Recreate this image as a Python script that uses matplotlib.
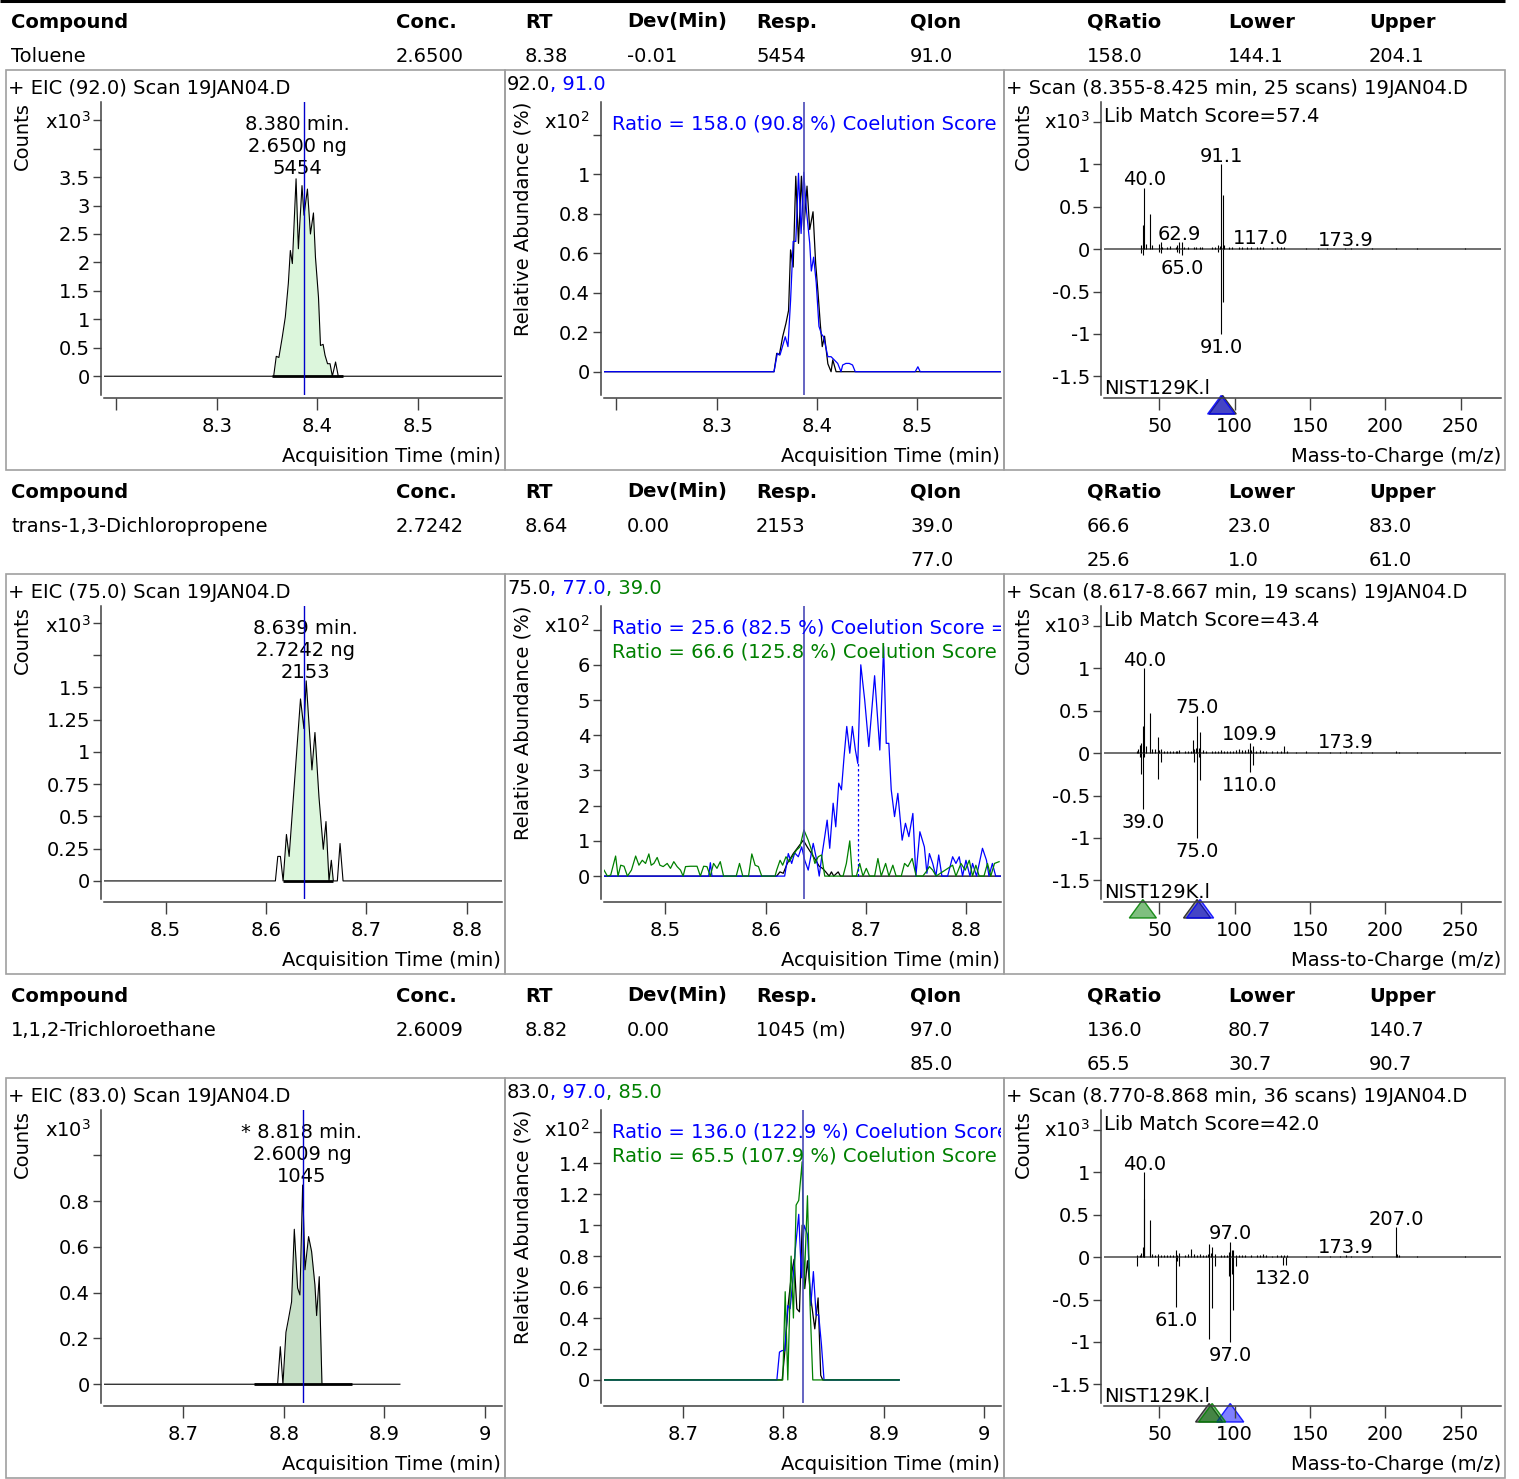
import matplotlib
matplotlib.use('Agg')
import matplotlib.pyplot as plt
from matplotlib.patches import Rectangle, Polygon
from matplotlib.transforms import blended_transform_factory

plt.rcParams['font.family'] = ['DejaVu Sans']
plt.rcParams['font.size'] = 14

W, H = 1519, 1479

################# Table data ###################

columns = ['Compound', 'Conc.', 'RT', 'Dev(Min)', 'Resp.', 'QIon', 'QRatio', 'Lower', 'Upper']
compounds = ['Toluene', 'trans-1,3-Dichloropropene', '1,1,2-Trichloroethane']
conc = ['2.6500', '2.7242', '2.6009']
rt_text = ['8.38', '8.64', '8.82']
dev = ['-0.01', '0.00', '0.00']
resp = ['5454', '2153', '1045 (m)']
qion = [['91.0'], ['39.0', '77.0'], ['97.0', '85.0']]
qratio = [['158.0'], ['66.6', '25.6'], ['136.0', '65.5']]
lower = [['144.1'], ['23.0', '1.0'], ['80.7', '30.7']]
upper = [['204.1'], ['83.0', '61.0'], ['140.7', '90.7']]

################# Chromatogram data ###################

quant_ion = ['92.0', '75.0', '83.0']
rt_found = [8.380, 8.639, 8.818]
rt_expected = [8.387, 8.638, 8.8195]
amount = ['2.6500', '2.7242', '2.6009']
response = ['5454', '2153', '1045']
manual = [False, False, True]
scan_start = [8.355, 8.617, 8.770]
scan_end = [8.425, 8.667, 8.868]
n_scans = [25, 19, 36]
fill_start = [8.3564, 8.617, 8.7991]
fill_end = [8.4148, 8.667, 8.8379]

# EIC traces (counts x10^3)
eic1_t = [8.188, 8.3564, 8.3590, 8.3616, 8.365, 8.368, 8.371, 8.373, 8.375, 8.3787, 8.381, 8.3846,
          8.3866, 8.390, 8.393, 8.396, 8.398, 8.401, 8.403, 8.4056, 8.4075, 8.410, 8.4125, 8.4148,
          8.418, 8.4207, 8.584]
eic1_y = [0, 0, 0.35, 0.33, 0.69, 1.04, 1.63, 2.21, 1.98, 3.47, 2.24, 3.35, 2.83, 3.29, 2.50, 2.87,
          2.09, 1.39, 0.54, 0.56, 0.37, 0.22, 0.22, 0, 0.25, 0, 0]
eic2_t = [8.4386, 8.6093, 8.6117, 8.6143, 8.617, 8.6203, 8.623, 8.6343, 8.6377, 8.640, 8.6457, 8.6487,
          8.6527, 8.657, 8.6597, 8.6627, 8.665, 8.667, 8.671, 8.6737, 8.6767, 8.835]
eic2_y = [0, 0, 0.19, 0.19, 0, 0.36, 0.19, 1.41, 1.18, 1.55, 0.86, 1.15, 0.65, 0.245, 0.46, 0, 0.16,
          0, 0, 0.29, 0, 0]
eic3_t = [8.6212, 8.7938, 8.7965, 8.7991, 8.8021, 8.8044, 8.8077, 8.8104, 8.8137, 8.816, 8.8187,
          8.821, 8.8246, 8.8276, 8.8309, 8.8326, 8.8352, 8.8379, 8.9154]
eic3_y = [0, 0, 0.164, 0, 0.227, 0.28, 0.36, 0.677, 0.42, 0.39, 0.87, 0.5, 0.645, 0.58, 0.434, 0.30,
          0.47, 0, 0]

# qualifier overlays (relative abundance x10^2)
q1_black_t = [8.188, 8.3572, 8.3599, 8.3625, 8.3658, 8.3691, 8.3717, 8.3737, 8.3763, 8.3789, 8.3816,
              8.3845, 8.3868, 8.3901, 8.3928, 8.3961, 8.3987, 8.4010, 8.4033, 8.4053, 8.4076, 8.4109,
              8.4141, 8.4158, 8.4191, 8.4207, 8.584]
q1_black_y = [0, 0, 0.093, 0.085, 0.177, 0.245, 0.31, 0.617, 0.53, 0.99, 0.65, 0.99, 0.72, 0.94, 0.72,
              0.81, 0.55, 0.405, 0.245, 0.127, 0.18, 0.04, 0, 0.06, 0, 0, 0]
q1_blue_t = [8.188, 8.3572, 8.3605, 8.3632, 8.3684, 8.3711, 8.3737, 8.3763, 8.3789, 8.3816, 8.3842,
             8.3868, 8.3895, 8.3928, 8.3944, 8.3967, 8.3993, 8.4020, 8.4046, 8.4066, 8.4109, 8.4141,
             8.4174, 8.4207, 8.4240, 8.4257, 8.4289, 8.4322, 8.4355, 8.4382, 8.498, 8.5007, 8.503, 8.584]
q1_blue_y = [0, 0, 0.093, 0.085, 0.177, 0.127, 0.36, 0.66, 0.66, 1.005, 0.70, 1.01, 0.82, 0.65, 0.51,
             0.58, 0.45, 0.23, 0.19, 0.177, 0.076, 0.076, 0.059, 0.042, 0, 0.034, 0.042, 0.042, 0.034,
             0, 0, 0.025, 0, 0]

q2_black_t = [8.4386, 8.611, 8.6143, 8.6176, 8.6216, 8.6276, 8.6326, 8.6376, 8.6415, 8.6458, 8.65,
              8.6535, 8.6568, 8.66, 8.6634, 8.6657, 8.668, 8.6724, 8.6747, 8.835]
q2_black_y = [0, 0, 0.12, 0.08, 0.36, 0.64, 0.83, 1.02, 0.83, 0.64, 0.45, 0.28, 0.22, 0.12, 0, 0.12, 0,
              0.12, 0, 0]
q2_blue_t = [8.4386, 8.5431, 8.5448, 8.5464, 8.619, 8.6226, 8.626, 8.629, 8.6326, 8.636, 8.639, 8.6425,
             8.6475, 8.651, 8.6535, 8.656, 8.659, 8.6614, 8.664, 8.6674, 8.67, 8.673, 8.6757, 8.6783,
             8.681, 8.684, 8.6866, 8.6896, 8.692, 8.695, 8.6989, 8.703, 8.7088, 8.714, 8.7178, 8.7204,
             8.723, 8.7254, 8.7287, 8.732, 8.7363, 8.7396, 8.743, 8.747, 8.750, 8.754, 8.7585, 8.761,
             8.7635, 8.7668, 8.770, 8.7728, 8.776, 8.7817, 8.7867, 8.79, 8.7933, 8.7966, 8.8, 8.804,
             8.8066, 8.8106, 8.8165, 8.8205, 8.823, 8.8264, 8.8297, 8.835]
q2_blue_y = [0, 0, 0.38, 0, 0, 0.64, 0.36, 0.66, 0.55, 0.83, 0.45, 0.17, 0.93, 0.45, 0, 0.55, 1.12,
             1.59, 0.79, 2.07, 1.4, 2.64, 2.45, 3.39, 4.25, 3.49, 4.25, 3.58, 3.2, 6.0, 5.0, 3.68, 5.69,
             3.58, 6.52, 3.77, 3.77, 2.45, 1.69, 2.35, 1.02, 1.5, 1.12, 1.78, 0, 1.26, 0.83, 0.08, 0.64,
             0.36, 0, 0.6, 0, 0, 0.55, 0.36, 0.55, 0, 0.45, 0, 0.36, 0, 0.79, 0.45, 0, 0.36, 0, 0]
q2_green_t = [8.4386, 8.442, 8.4453, 8.4502, 8.4526, 8.4553, 8.4586, 8.462, 8.466, 8.4702, 8.4735,
              8.4768, 8.4801, 8.4834, 8.4857, 8.4884, 8.4917, 8.4944, 8.4977, 8.5017, 8.505, 8.5083,
              8.5116, 8.515, 8.5176, 8.52, 8.525, 8.5315, 8.5348, 8.5381, 8.5414, 8.5447, 8.548,
              8.5514, 8.5547, 8.558, 8.5706, 8.5739, 8.5772, 8.5829, 8.5862, 8.5895, 8.5928, 8.5961,
              8.6094, 8.611, 8.6144, 8.617, 8.6203, 8.6236, 8.6276, 8.6309, 8.6342, 8.6382, 8.6425,
              8.6458, 8.6492, 8.6525, 8.6558, 8.659, 8.6773, 8.6806, 8.684, 8.6866, 8.6906, 8.6939,
              8.6972, 8.7005, 8.7038, 8.7088, 8.7121, 8.7154, 8.7198, 8.7231, 8.727, 8.7303, 8.7354,
              8.7387, 8.742, 8.7463, 8.7503, 8.7569, 8.7602, 8.7635, 8.7668, 8.7702, 8.7867, 8.79,
              8.795, 8.7993, 8.8033, 8.8066, 8.8099, 8.8132, 8.818, 8.8215, 8.8248, 8.8285, 8.8331]
q2_green_y = [0.17, 0, 0.03, 0.57, 0, 0.31, 0.28, 0, 0.17, 0.57, 0.31, 0.45, 0.36, 0.63, 0.31, 0.36,
              0.53, 0.31, 0.27, 0.36, 0.22, 0.41, 0.27, 0.17, 0, 0.27, 0.28, 0.28, 0, 0.28, 0.27, 0,
              0.36, 0.22, 0.41, 0, 0, 0.36, 0, 0, 0.63, 0.31, 0.27, 0, 0, 0.17, 0.45, 0.31, 0.55, 0.41,
              0.6, 0.74, 0.83, 1.31, 1.02, 0.74, 0.36, 0.55, 0.6, 0, 0, 0.36, 1.0, 0, 0, 0.36, 0, 0.22,
              0, 0, 0.5, 0, 0.36, 0, 0.31, 0, 0, 0.36, 0.27, 0.5, 0, 0, 0.12, 0.27, 0.17, 0, 0.31, 0,
              0.36, 0.17, 0.45, 0, 0.31, 0, 0, 0.36, 0, 0.36, 0.41]
q2_drop = (8.692, 3.2)

q3_black_t = [8.6212, 8.7988, 8.8014, 8.8047, 8.808, 8.8107, 8.8134, 8.816, 8.8187, 8.8213, 8.824,
              8.8273, 8.8313, 8.8346, 8.8372, 8.8392, 8.9154]
q3_black_y = [0, 0, 0.18, 0.48, 0.68, 0.78, 0.46, 0.44, 1.0, 0.59, 0.77, 0.53, 0.33, 0.53, 0.03, 0, 0]
q3_blue_t = [8.6212, 8.7935, 8.7961, 8.7988, 8.8014, 8.8044, 8.8067, 8.8094, 8.812, 8.8153, 8.818,
             8.8206, 8.824, 8.8273, 8.8299, 8.8326, 8.8352, 8.8379, 8.8405, 8.9154]
q3_blue_y = [0, 0, 0.18, 0.19, 0.19, 0.48, 0.46, 0.64, 0.85, 1.07, 0.66, 1.0, 0.94, 0.48, 0.70, 0.42,
             0.42, 0.23, 0, 0]
q3_green_t = [8.6212, 8.7994, 8.8018, 8.8044, 8.8077, 8.81, 8.8127, 8.8153, 8.8187, 8.8206, 8.824,
              8.8266, 8.8293, 8.9154]
q3_green_y = [0, 0, 0.57, 0, 0.80, 0.40, 1.13, 1.16, 1.41, 0.59, 1.19, 0.48, 0, 0]

title_ions = [['92.0', ', 91.0'], ['75.0', ', 77.0', ', 39.0'], ['83.0', ', 97.0', ', 85.0']]
# ratio text as shown (cut off at the right edge of the plot)
ratio_texts = [['Ratio = 158.0 (90.8 %) Coelution Score'],
               ['Ratio = 25.6 (82.5 %) Coelution Score =', 'Ratio = 66.6 (125.8 %) Coelution Score'],
               ['Ratio = 136.0 (122.9 %) Coelution Score', 'Ratio = 65.5 (107.9 %) Coelution Score']]

################# Spectrum data (counts x10^3) ###################

lib_score = ['57.4', '43.4', '42.0']
tri_ions = [[92, 91], [75, 77, 39], [83, 97, 85]]

spec1_mz = [38, 39, 40, 41, 44, 45, 50, 51, 52, 55, 57, 61, 62, 63, 65, 66, 69, 73, 74, 77, 78, 85, 87,
            89, 90, 91, 92, 93, 96, 98, 103, 105, 108, 111, 115, 117, 119, 125, 128, 131, 133, 147,
            155, 161, 173, 177, 191, 207, 221, 253]
spec1_int = [0.05, 0.28, 0.72, 0.06, 0.41, 0.05, 0.06, 0.08, 0.03, 0.03, 0.04, 0.03, 0.05, 0.08, 0.08,
             0.02, 0.03, 0.02, 0.03, 0.02, 0.03, 0.02, 0.02, 0.05, 0.04, 1.0, 0.64, 0.05, 0.02, 0.02,
             0.02, 0.03, 0.02, 0.02, 0.02, 0.03, 0.02, 0.01, 0.02, 0.02, 0.02, 0.01, 0.01, 0.01, 0.01,
             0.01, 0.01, 0.01, 0.01, 0.01]
lib1_mz = [38, 39, 50, 51, 62, 63, 65, 89, 91, 92]
lib1_int = [0.05, 0.07, 0.03, 0.04, 0.03, 0.04, 0.07, 0.03, 1.0, 0.62]

spec2_mz = [35, 36, 37, 38, 39, 40, 41, 44, 45, 47, 49, 50, 51, 53, 55, 57, 59, 61, 62, 63, 67, 69, 71,
            72, 73, 74, 75, 76, 77, 79, 81, 85, 87, 89, 91, 93, 95, 97, 99, 101, 103, 105, 107, 109,
            110, 111, 112, 114, 117, 119, 121, 125, 128, 131, 133, 135, 141, 147, 155, 163, 170, 174,
            177, 184, 191, 207, 209, 221, 253]
spec2_int = [0.03, 0.05, 0.1, 0.12, 0.32, 1.0, 0.08, 0.47, 0.05, 0.05, 0.19, 0.04, 0.05, 0.03, 0.03,
             0.03, 0.02, 0.03, 0.03, 0.04, 0.02, 0.03, 0.03, 0.15, 0.05, 0.06, 0.44, 0.06, 0.25, 0.04,
             0.03, 0.02, 0.03, 0.03, 0.04, 0.03, 0.03, 0.03, 0.03, 0.04, 0.05, 0.04, 0.04, 0.05, 0.12,
             0.04, 0.08, 0.03, 0.04, 0.03, 0.02, 0.02, 0.02, 0.03, 0.08, 0.03, 0.01, 0.02, 0.01, 0.01,
             0.01, 0.03, 0.01, 0.01, 0.01, 0.03, 0.01, 0.01, 0.01]
lib2_mz = [37, 38, 39, 40, 49, 51, 73, 75, 76, 77, 110, 112]
lib2_int = [0.05, 0.25, 0.66, 0.05, 0.31, 0.10, 0.1, 1.0, 0.05, 0.32, 0.22, 0.14]

spec3_mz = [35, 37, 38, 39, 39.8, 40, 44, 45, 47, 49, 51, 53, 55, 57, 59, 61, 62, 63, 67, 69, 71, 73, 75,
            77, 79, 81, 82, 83, 84, 85, 87, 91, 93, 95, 96, 97, 98, 99, 101, 103, 105, 107, 111, 115,
            117, 119, 121, 125, 128, 131, 133, 135, 147, 155, 163, 170, 174, 177, 191, 207, 208, 209,
            221, 253]
spec3_int = [0.03, 0.02, 0.05, 0.12, 0.69, 1.0, 0.44, 0.04, 0.03, 0.04, 0.03, 0.03, 0.03, 0.03, 0.02,
             0.08, 0.03, 0.05, 0.02, 0.04, 0.1, 0.04, 0.03, 0.04, 0.03, 0.03, 0.04, 0.15, 0.05, 0.12,
             0.04, 0.03, 0.03, 0.03, 0.06, 0.18, 0.09, 0.08, 0.03, 0.02, 0.03, 0.02, 0.02, 0.03, 0.02,
             0.04, 0.02, 0.01, 0.02, 0.02, 0.03, 0.02, 0.01, 0.01, 0.01, 0.01, 0.02, 0.01, 0.01, 0.35,
             0.04, 0.02, 0.01, 0.01]
lib3_mz = [35, 49, 61, 62, 63, 83, 85, 87, 96, 97, 98, 99, 101, 132, 134]
lib3_int = [0.1, 0.1, 0.59, 0.05, 0.1, 0.96, 0.6, 0.1, 0.22, 1.0, 0.2, 0.62, 0.1, 0.09, 0.09]

spec_labels_up = [[40.0, 62.9, 91.1, 117.0, 173.9], [40.0, 75.0, 109.9, 173.9], [40.0, 97.0, 173.9, 207.0]]
spec_labels_down = [[65.0, 91.0], [39.0, 75.0, 110.0], [61.0, 97.0, 132.0]]

eic_t = [eic1_t, eic2_t, eic3_t]
eic_y = [eic1_y, eic2_y, eic3_y]
qual_traces = [[(q1_black_t, q1_black_y), (q1_blue_t, q1_blue_y)],
               [(q2_black_t, q2_black_y), (q2_blue_t, q2_blue_y), (q2_green_t, q2_green_y)],
               [(q3_black_t, q3_black_y), (q3_blue_t, q3_blue_y), (q3_green_t, q3_green_y)]]
spectra = [(spec1_mz, spec1_int, lib1_mz, lib1_int), (spec2_mz, spec2_int, lib2_mz, lib2_int),
           (spec3_mz, spec3_int, lib3_mz, lib3_int)]

# axis settings
time_xlim = [(8.1876, 8.5836), (8.4386, 8.835), (8.6212, 9.0169)]
time_ticks = [[8.2, 8.3, 8.4, 8.5], [8.5, 8.6, 8.7, 8.8], [8.7, 8.8, 8.9, 9.0]]
time_ticklabels = [['', '8.3', '8.4', '8.5'], ['8.5', '8.6', '8.7', '8.8'], ['8.7', '8.8', '8.9', '9']]
eic_ylim = [(-0.33, 4.82), (-0.14, 2.13), (-0.082, 1.198)]
eic_yticks = [[0, 0.5, 1, 1.5, 2, 2.5, 3, 3.5, 4, 4.5], [0, 0.25, 0.5, 0.75, 1, 1.25, 1.5, 1.75, 2],
              [0, 0.2, 0.4, 0.6, 0.8, 1.0]]
eic_ylabel_max = [3.5, 1.5, 0.8]
qual_ylim = [(-0.118, 1.366), (-0.65, 7.67), (-0.149, 1.744)]
qual_yticks = [[0, 0.2, 0.4, 0.6, 0.8, 1, 1.2], [0, 1, 2, 3, 4, 5, 6, 7],
               [0, 0.2, 0.4, 0.6, 0.8, 1, 1.2, 1.4, 1.6]]
qual_ylabel_max = [1, 6, 1.4]
spec_xlim = (13.2, 276.8)
spec_xticks = [50, 100, 150, 200, 250]
spec_ylim = (-1.72, 1.735)
spec_yticks = [-1.5, -1, -0.5, 0, 0.5, 1, 1.5]
spec_ylabel_max = 1

################# Layout ###################

box_x = [6, 505, 1004, 1505]
ax_x = [(104, 502), (604, 1001), (1104, 1501)]
row_tops = [70, 574, 1078]
header_y = [22, 492, 996]
col_x = [11, 396, 525, 627, 756, 910, 1087, 1228, 1369]
SPINE = '#404040'
BLUE = '#0000ff'
GREEN = '#008000'


def fig_rect(x0, y0, x1, y1):
    return [x0 / W, 1 - y1 / H, (x1 - x0) / W, (y1 - y0) / H]


def tick_text(ticks, label_max):
    return [f'{v:g}' if v <= label_max + 1e-9 else '' for v in ticks]


def style_axes(ax, xticks, xlabels, yticks, ylabels):
    for s in ['top', 'right']:
        ax.spines[s].set_visible(False)
    for s in ['left', 'bottom']:
        ax.spines[s].set_position(('outward', 2.2))
        ax.spines[s].set_color(SPINE)
        ax.spines[s].set_linewidth(1.1)
    ax.set_xticks(xticks)
    ax.set_xticklabels(xlabels)
    ax.set_yticks(yticks)
    ax.set_yticklabels(ylabels)
    ax.tick_params(axis='x', length=8.6, width=1.0, pad=5.4, color=SPINE, labelsize=14)
    ax.tick_params(axis='y', length=5.8, width=1.0, pad=2, color=SPINE, labelsize=14)
    ax.patch.set_facecolor('none')


fig = plt.figure(figsize=(W / 100, H / 100), dpi=100)
page = fig.add_axes([0, 0, 1, 1])
page.set_xlim(0, W)
page.set_ylim(H, 0)
page.axis('off')

page.plot([0, 1505], [1.3, 1.3], color='black', lw=2.2, solid_capstyle='butt')

for i in range(3):
    T = row_tops[i]
    hy = header_y[i]

    # table header and values
    for cx, name in zip(col_x, columns):
        page.text(cx, hy, name, weight='bold', va='center')
    first = [compounds[i], conc[i], rt_text[i], dev[i], resp[i], qion[i][0], qratio[i][0],
             lower[i][0], upper[i][0]]
    for cx, val in zip(col_x, first):
        page.text(cx, hy + 34, val, va='center')
    for j in range(1, len(qion[i])):
        for cx, val in zip(col_x[5:], [qion[i][j], qratio[i][j], lower[i][j], upper[i][j]]):
            page.text(cx, hy + 34 * (j + 1), val, va='center')

    for p in range(3):
        page.add_patch(Rectangle((box_x[p], T), box_x[p + 1] - box_x[p], 400, fill=False,
                                 ec='#a0a0a0', lw=1.2))
        page.text(box_x[p + 1] - 4, T + 386,
                  'Mass-to-Charge (m/z)' if p == 2 else 'Acquisition Time (min)',
                  ha='right', va='center')

    ################# EIC panel ###################
    ax = fig.add_axes(fig_rect(ax_x[0][0], T + 32, ax_x[0][1], T + 325))
    t, y = eic_t[i], eic_y[i]
    fill_t = [a for a in t if fill_start[i] <= a <= fill_end[i]]
    fill_y = [b for a, b in zip(t, y) if fill_start[i] <= a <= fill_end[i]]
    ax.fill_between(fill_t, fill_y, 0, color='#c6dfc6' if manual[i] else '#dcf6dc', lw=0)
    ax.plot(t, y, color='black', lw=0.8)
    ax.plot([scan_start[i], scan_end[i]], [0, 0], color='black', lw=2.0, solid_capstyle='butt')
    ax.axvline(rt_expected[i], color='#0000cc', lw=1.0)
    ax.set_xlim(time_xlim[i])
    ax.set_ylim(eic_ylim[i])
    style_axes(ax, time_ticks[i], time_ticklabels[i], eic_yticks[i],
               tick_text(eic_yticks[i], eic_ylabel_max[i]))
    tr = blended_transform_factory(ax.transData, page.transData)
    star = '* ' if manual[i] else ''
    page.text(rt_found[i], T + 55, f'{star}{rt_found[i]:.3f} min.', transform=tr, ha='center', va='center')
    page.text(rt_found[i], T + 77, f'{amount[i]} ng', transform=tr, ha='center', va='center')
    page.text(rt_found[i], T + 99, response[i], transform=tr, ha='center', va='center')
    page.text(8, T + 18, f'+ EIC ({quant_ion[i]}) Scan 19JAN04.D', va='center')
    page.text(22, T + 32, 'Counts', rotation=90, ha='center', va='top')
    page.text(91, T + 52, r'x10$^{3}$', ha='right', va='center')

    ################# Qualifier overlay panel ###################
    ax = fig.add_axes(fig_rect(ax_x[1][0], T + 32, ax_x[1][1], T + 325))
    colors = ['black', BLUE, GREEN]
    for (qt, qy), c in zip(qual_traces[i], colors):
        ax.plot(qt, qy, color=c, lw=0.9)
    ax.axvline(rt_expected[i], color='#4a4ab8', lw=1.2)
    if i == 1:
        ax.vlines(q2_drop[0], 0, q2_drop[1], colors=BLUE, lw=0.9, linestyles=(0, (2, 2)))
    ax.set_xlim(time_xlim[i])
    ax.set_ylim(qual_ylim[i])
    style_axes(ax, time_ticks[i], time_ticklabels[i], qual_yticks[i],
               tick_text(qual_yticks[i], qual_ylabel_max[i]))
    for k, s in enumerate(ratio_texts[i]):
        ax.text(612, T + 54 + 24 * k, s, transform=page.transData, color=colors[k + 1],
                va='center', clip_on=True)
    prev = page.text(507, T + 15, title_ions[i][0], va='center', color='black')
    for seg, c in zip(title_ions[i][1:], colors[1:]):
        prev = page.annotate(seg, xycoords=prev, xy=(1, 0), va='bottom', color=c)
    page.text(523, T + 32, 'Relative Abundance (%)', rotation=90, ha='center', va='top')
    page.text(590, T + 52, r'x10$^{2}$', ha='right', va='center')

    ################# Spectrum panel ###################
    ax = fig.add_axes(fig_rect(ax_x[2][0], T + 32, ax_x[2][1], T + 325))
    mz, inten, lmz, lint = spectra[i]
    ax.axhline(0, color='#707070', lw=1.4)
    ax.vlines(mz, 0, inten, colors='black', lw=0.8)
    ax.vlines(lmz, 0, [-v for v in lint], colors='black', lw=0.8)
    for lab in spec_labels_up[i]:
        top = max([v for m, v in zip(mz, inten) if abs(m - lab) <= 1.0] + [0.01])
        ax.annotate(f'{lab:.1f}', (lab, top), xytext=(0, 2), textcoords='offset points',
                    ha='center', va='baseline')
    for lab in spec_labels_down[i]:
        bot = max([v for m, v in zip(lmz, lint) if abs(m - lab) <= 1.0] + [0.01])
        ax.annotate(f'{lab:.1f}', (lab, -bot), xytext=(0, -3), textcoords='offset points',
                    ha='center', va='top')
    ax.set_xlim(spec_xlim)
    ax.set_ylim(spec_ylim)
    style_axes(ax, spec_xticks, [str(v) for v in spec_xticks], spec_yticks,
               tick_text(spec_yticks, spec_ylabel_max))
    ttr = blended_transform_factory(ax.transData, page.transData)
    tri_styles = [((0.5, 0.5, 0.5, 0.9), (0.2, 0.2, 0.2, 1.0)),
                  ((0, 0, 1, 0.5), (0, 0, 1, 0.85)),
                  ((0, 0.5, 0, 0.5), (0, 0.5, 0, 0.85))]
    for ion, (fc, ec) in zip(tri_ions[i], tri_styles):
        ax.add_patch(Polygon([(ion - 9, T + 344), (ion + 9, T + 344), (ion, T + 325.5)],
                             closed=True, transform=ttr, clip_on=False, fc=fc, ec=ec, lw=1.0))
    page.text(1006, T + 18,
              f'+ Scan ({scan_start[i]:.3f}-{scan_end[i]:.3f} min, {n_scans[i]} scans) 19JAN04.D',
              va='center')
    page.text(1104, T + 47, f'Lib Match Score={lib_score[i]}', va='center')
    page.text(1104, T + 318, 'NIST129K.l', va='center')
    page.text(1023, T + 32, 'Counts', rotation=90, ha='center', va='top')
    page.text(1090, T + 52, r'x10$^{3}$', ha='right', va='center')

fig.savefig('out.png', dpi=100)
